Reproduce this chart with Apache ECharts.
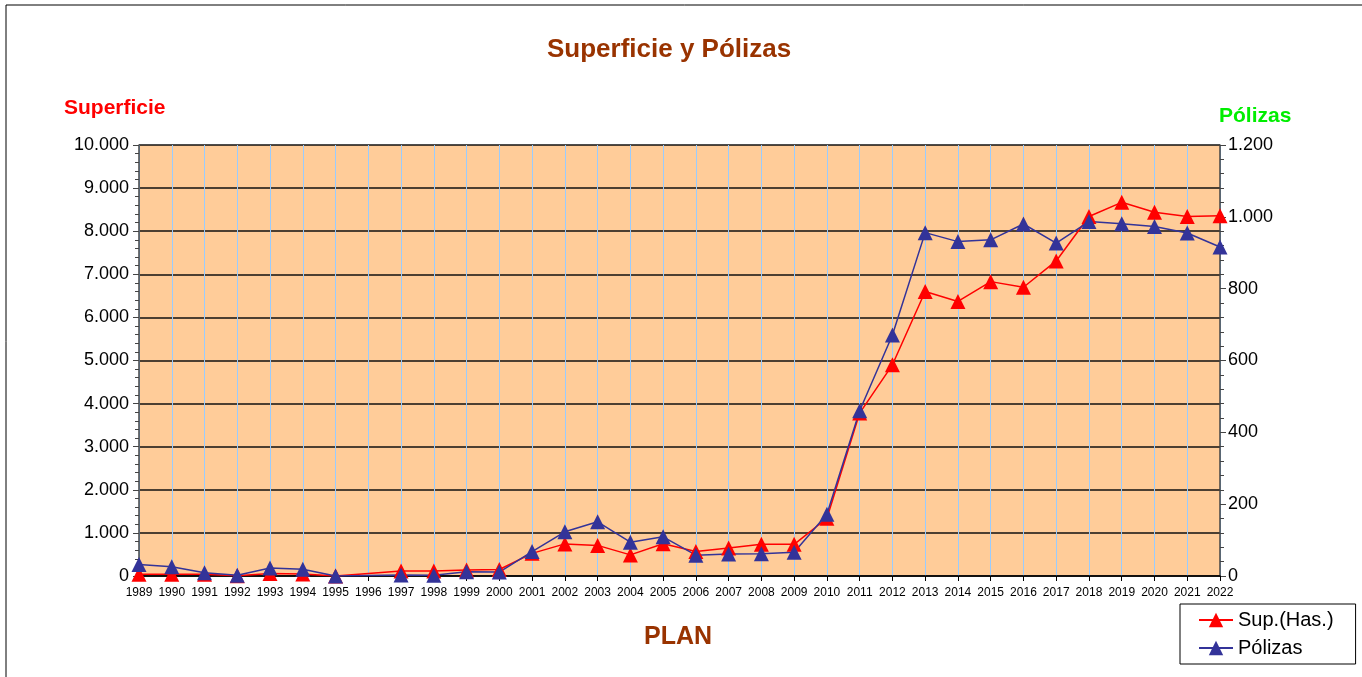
<!DOCTYPE html>
<html>
<head>
<meta charset="utf-8">
<title>Superficie y Pólizas</title>
<script src="https://cdn.jsdelivr.net/npm/echarts@6/dist/echarts.min.js"></script>
<style>
  html, body { margin: 0; padding: 0; background: #fff; }
  #main { width: 1362px; height: 677px; }
</style>
</head>
<body>
<div id="main"></div>
<script>
// años del plan (1996 sin dato)
const years = ['1989','1990','1991','1992','1993','1994','1995','1996','1997','1998','1999','2000',
  '2001','2002','2003','2004','2005','2006','2007','2008','2009','2010','2011','2012','2013',
  '2014','2015','2016','2017','2018','2019','2020','2021','2022'];
// superficie en hectáreas (eje izquierdo)
const superficie = [40, 40, 40, 5, 60, 45, 0, null, 115, 115, 140, 150,
  525, 745, 710, 490, 750, 570, 650, 735, 735, 1340, 3780, 4900, 6600,
  6370, 6830, 6700, 7310, 8340, 8670, 8440, 8340, 8360];
// número de pólizas (eje derecho)
const polizas = [32, 26, 9, 2, 22, 19, 0, null, 3, 2, 12, 11,
  68, 123, 151, 94, 109, 58, 61, 62, 66, 172, 460, 671, 956,
  931, 936, 980, 927, 987, 981, 973, 955, 916];

function miles(v) {
  return String(v).replace(/\B(?=(\d{3})+(?!\d))/g, '.');
}

const chart = echarts.init(document.getElementById('main'));
const font = '"Liberation Sans", Arial, sans-serif';

const option = {
  backgroundColor: '#fff',
  textStyle: { fontFamily: font },
  title: [
    { text: 'Superficie y Pólizas', left: 542, top: 32,
      textStyle: { fontSize: 26, fontWeight: 'bold', color: '#993300', fontFamily: font } },
    { text: 'Superficie', left: 59, top: 93,
      textStyle: { fontSize: 21, fontWeight: 'bold', color: '#ff0000', fontFamily: font } },
    { text: 'Pólizas', left: 1214, top: 101,
      textStyle: { fontSize: 21, fontWeight: 'bold', color: '#00ee00', fontFamily: font } },
    { text: 'PLAN', left: 639, top: 620,
      textStyle: { fontSize: 25, fontWeight: 'bold', color: '#993300', fontFamily: font } }
  ],
  graphic: [
    { type: 'rect', z: -1, silent: true,
      shape: { x: 6, y: 5, width: 1400, height: 700 },
      style: { fill: null, stroke: '#000', lineWidth: 1 } }
  ],
  legend: {
    orient: 'vertical',
    left: 1180, top: 604,
    padding: [6, 22, 6, 18],
    itemGap: 8,
    itemWidth: 34, itemHeight: 18,
    backgroundColor: '#fff',
    borderColor: '#000', borderWidth: 1, borderRadius: 0,
    textStyle: { fontSize: 20, color: '#000', fontFamily: font },
    data: ['Sup.(Has.)', 'Pólizas']
  },
  grid: { left: 139, right: 142, top: 145, bottom: 101, show: true,
    backgroundColor: '#ffcc99', borderWidth: 0 },
  xAxis: {
    type: 'category',
    data: years,
    boundaryGap: false,
    axisLine: { lineStyle: { color: '#000', width: 1.5 } },
    axisTick: { show: true, interval: 0, length: 5, lineStyle: { color: '#000' } },
    axisLabel: { interval: 0, fontSize: 12, color: '#000', margin: 11 },
    splitLine: { show: true, interval: 0, lineStyle: { color: '#99ccff', width: 1 } }
  },
  yAxis: [
    { type: 'value', min: 0, max: 10000, interval: 1000, position: 'left',
      axisLine: { show: true, lineStyle: { color: '#444', width: 1.5 } },
      axisTick: { show: true, length: 6, lineStyle: { color: '#444' } },
      minorTick: { show: true, splitNumber: 5, length: 4, lineStyle: { color: '#444' } },
      axisLabel: { fontSize: 18, color: '#000', margin: 10, formatter: miles },
      splitLine: { show: true, lineStyle: { color: '#111', width: 1.5 } } },
    { type: 'value', min: 0, max: 1200, interval: 200, position: 'right',
      axisLine: { show: true, lineStyle: { color: '#444', width: 1.5 } },
      axisTick: { show: true, length: 6, lineStyle: { color: '#444' } },
      minorTick: { show: true, splitNumber: 5, length: 4, lineStyle: { color: '#444' } },
      axisLabel: { fontSize: 18, color: '#000', margin: 8, formatter: miles },
      splitLine: { show: false } }
  ],
  series: [
    { name: 'Sup.(Has.)', type: 'line', yAxisIndex: 0, data: superficie,
      connectNulls: true, symbol: 'triangle', symbolSize: 15,
      itemStyle: { color: '#ff0000' }, lineStyle: { color: '#ff0000', width: 1.5 } },
    { name: 'Pólizas', type: 'line', yAxisIndex: 1, data: polizas,
      connectNulls: true, symbol: 'triangle', symbolSize: 15,
      itemStyle: { color: '#333399' }, lineStyle: { color: '#333399', width: 1.5 } }
  ]
};

chart.setOption(option);
</script>
</body>
</html>
